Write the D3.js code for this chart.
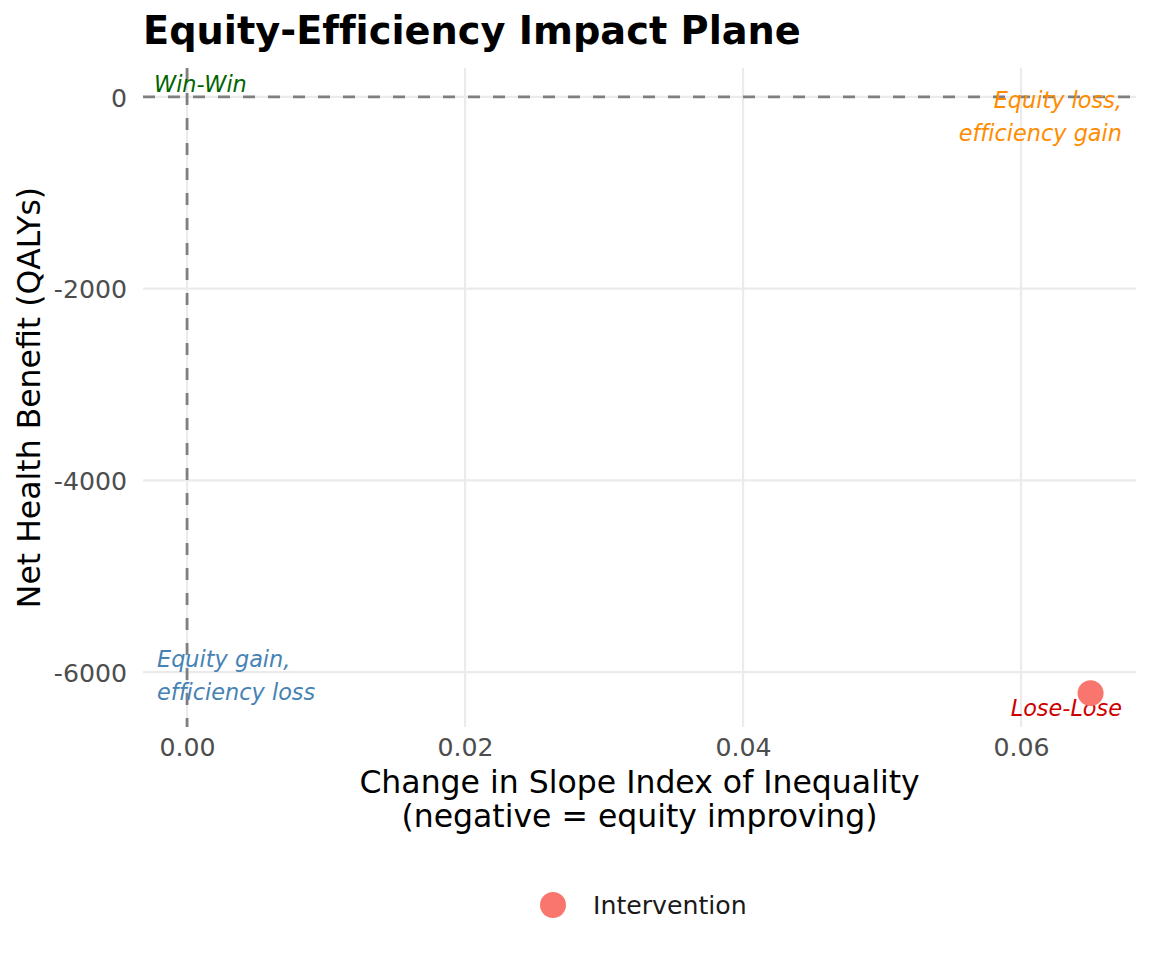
<!DOCTYPE html>
<html>
<head>
<meta charset="utf-8">
<script src="https://cdn.jsdelivr.net/npm/d3@7"></script>
<style>
  body { margin: 0; background: #fff; }
  text { font-family: "DejaVu Sans", sans-serif; }
</style>
</head>
<body>
<div id="chart"></div>
<script>
// data
var seriesNames = ["Intervention"];
var dSII = [0.065];
var netBenefit = [-6220];
var xTicks = [0, 0.02, 0.04, 0.06];
var yTicks = [0, -2000, -4000, -6000];

// quadrant annotations: which corner of the panel they sit in
var quadrantLabels = [
  { lines: ["Win-Win"], side: "left", corner: "top", color: "#006400" },
  { lines: ["Equity loss,", "efficiency gain"], side: "right", corner: "top", color: "#FF8C00" },
  { lines: ["Equity gain,", "efficiency loss"], side: "left", corner: "bottom", color: "#4682B4" },
  { lines: ["Lose-Lose"], side: "right", corner: "bottom", color: "#CD0000" }
];

var width = 1152, height = 960;
var marginleft = 143, marginright = 16, margintop = 68, marginbottom = 233;

var svg = d3.select("#chart").append("svg")
  .attr("width", width).attr("height", height);

var xScale = d3.scaleLinear()
  .domain([-0.00317, 0.06827])
  .range([marginleft, width - marginright]);

var yScale = d3.scaleLinear()
  .domain([-6573, 302])
  .range([height - marginbottom, margintop]);

var xr = xScale.range(), yr = yScale.range();

// grid
svg.append("g").selectAll("line")
  .data(xTicks).enter().append("line")
  .attr("x1", function(d) { return xScale(d); })
  .attr("x2", function(d) { return xScale(d); })
  .attr("y1", yr[1]).attr("y2", yr[0])
  .attr("stroke", "#ebebeb").attr("stroke-width", 2.2);

svg.append("g").selectAll("line")
  .data(yTicks).enter().append("line")
  .attr("x1", xr[0]).attr("x2", xr[1])
  .attr("y1", function(d) { return yScale(d); })
  .attr("y2", function(d) { return yScale(d); })
  .attr("stroke", "#ebebeb").attr("stroke-width", 2.2);

// reference lines at zero
svg.append("line")
  .attr("x1", xr[0]).attr("x2", xr[1])
  .attr("y1", yScale(0)).attr("y2", yScale(0))
  .attr("stroke", "#7f7f7f").attr("stroke-width", 2.8)
  .attr("stroke-dasharray", "12,13");
svg.append("line")
  .attr("x1", xScale(0)).attr("x2", xScale(0))
  .attr("y1", yr[1]).attr("y2", yr[0])
  .attr("stroke", "#7f7f7f").attr("stroke-width", 2.8)
  .attr("stroke-dasharray", "12,13");

// axes, labels only
var xaxis = svg.append("g")
  .attr("transform", "translate(0," + yr[0] + ")")
  .call(d3.axisBottom(xScale).tickValues(xTicks)
    .tickFormat(function(d) { return d.toFixed(2); })
    .tickSize(0).tickPadding(11));
var yaxis = svg.append("g")
  .attr("transform", "translate(" + xr[0] + ",0)")
  .call(d3.axisLeft(yScale).tickValues(yTicks)
    .tickFormat(function(d) { return String(d); })
    .tickSize(0).tickPadding(16));
[xaxis, yaxis].forEach(function(a) {
  a.select(".domain").remove();
  a.selectAll("text").attr("fill", "#4d4d4d")
    .style("font-size", "25.2px")
    .style("font-family", "DejaVu Sans, sans-serif");
});
yaxis.selectAll("text").attr("dy", "0.36em");

// quadrant labels
quadrantLabels.forEach(function(q) {
  var tx = q.side === "left" ? xr[0] + 11 : xr[1] - 14;
  var n = q.lines.length;
  var base;
  if (q.corner === "top") base = n > 1 ? yr[1] + 40 : yr[1] + 24;
  else base = yr[0] - 11 - (n - 1) * 33 - (n > 1 ? 16 : 0);
  if (q.side === "left" && n > 1) tx = xr[0] + 14;
  var t = svg.append("text")
    .attr("text-anchor", q.side === "left" ? "start" : "end")
    .attr("fill", q.color)
    .style("font-style", "italic")
    .style("font-variant-ligatures", "none")
    .style("font-size", "22.4px");
  q.lines.forEach(function(l, i) {
    t.append("tspan").attr("x", tx).attr("y", base + i * 33).text(l);
  });
});

// points
svg.append("g").selectAll("circle")
  .data(dSII).enter().append("circle")
  .attr("cx", function(d) { return xScale(d); })
  .attr("cy", function(d, i) { return yScale(netBenefit[i]); })
  .attr("r", 13)
  .attr("fill", "#F8766D");

// titles
svg.append("text")
  .attr("x", xr[0]).attr("y", 44)
  .style("font-size", "38.3px").style("font-weight", "bold")
  .style("font-variant-ligatures", "none")
  .attr("fill", "#000")
  .text("Equity-Efficiency Impact Plane");

svg.append("text")
  .attr("text-anchor", "middle")
  .attr("x", (xr[0] + xr[1]) / 2).attr("y", 793)
  .style("font-size", "31.5px")
  .text("Change in Slope Index of Inequality");
svg.append("text")
  .attr("text-anchor", "middle")
  .attr("x", (xr[0] + xr[1]) / 2).attr("y", 827)
  .style("font-size", "31.5px")
  .text("(negative = equity improving)");

svg.append("text")
  .attr("text-anchor", "middle")
  .attr("transform", "translate(40," + ((yr[0] + yr[1]) / 2) + ") rotate(-90)")
  .style("font-size", "31.5px")
  .text("Net Health Benefit (QALYs)");

// legend
var legend = svg.append("g").attr("transform", "translate(553,905)");
legend.selectAll("circle").data(seriesNames).enter().append("circle")
  .attr("r", 13).attr("fill", "#F8766D");
legend.selectAll("text").data(seriesNames).enter().append("text")
  .attr("x", 40).attr("y", 9)
  .style("font-size", "25.2px")
  .attr("fill", "#1a1a1a")
  .text(function(d) { return d; });
</script>
</body>
</html>
